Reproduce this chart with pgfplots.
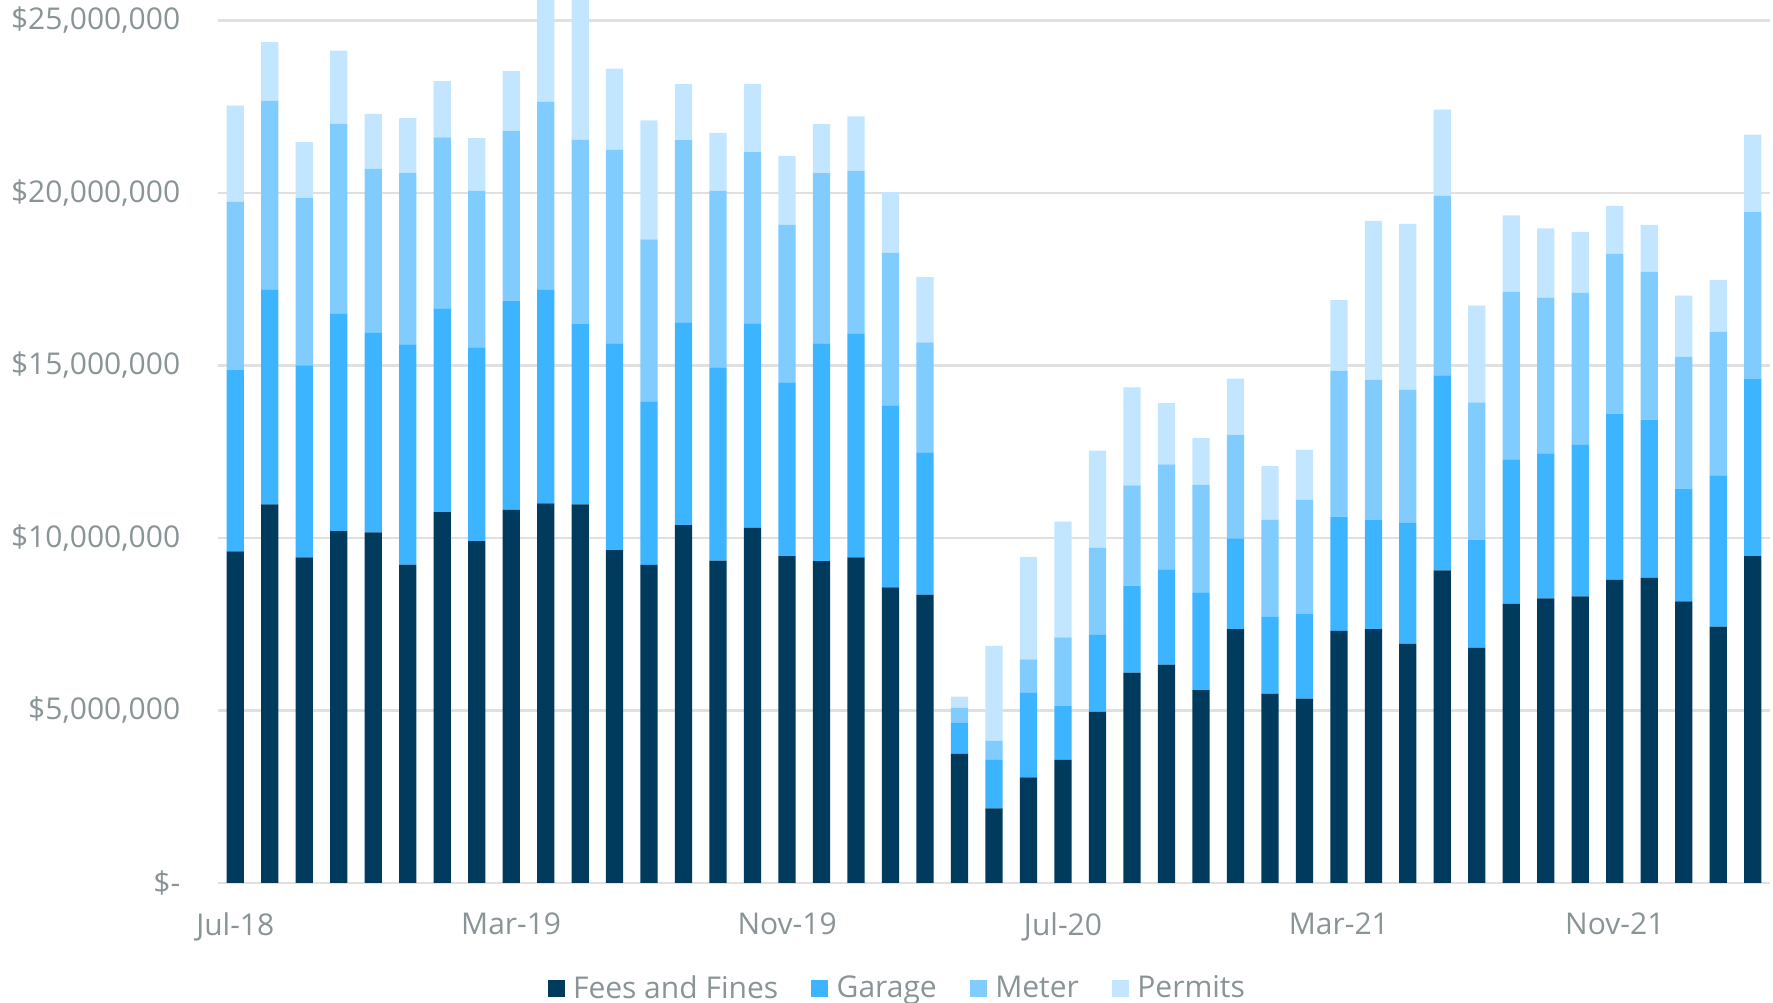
\documentclass[border=0pt]{standalone}
\usepackage{fontspec}
\setmainfont{Open Sans}
\usepackage{pgfplots}
\pgfplotsset{compat=1.18}
\usepackage{pgfplotstable}
\definecolor{fees}{RGB}{0,58,93}
\definecolor{garage}{RGB}{61,180,255}
\definecolor{meter}{RGB}{128,204,255}
\definecolor{permits}{RGB}{194,230,255}
\definecolor{txt}{RGB}{137,148,150}
\definecolor{gridc}{RGB}{224,224,224}

\pgfplotstableread{
i fees garage meter permits
0 9.61 5.25 4.88 2.79
1 10.97 6.22 5.48 1.70
2 9.44 5.56 4.85 1.62
3 10.20 6.31 5.49 2.12
4 10.16 5.78 4.76 1.59
5 9.23 6.38 4.97 1.59
6 10.75 5.90 4.96 1.63
7 9.91 5.61 4.54 1.53
8 10.82 6.06 4.92 1.73
9 11.00 6.19 5.45 3.90
10 10.97 5.23 5.34 4.80
11 9.65 5.99 5.61 2.35
12 9.22 4.74 4.69 3.45
13 10.37 5.88 5.28 1.62
14 9.34 5.60 5.12 1.68
15 10.29 5.93 4.96 1.98
16 9.47 5.04 4.57 1.99
17 9.33 6.31 4.93 1.43
18 9.44 6.49 4.71 1.58
19 8.57 5.27 4.43 1.75
20 8.36 4.12 3.19 1.89
21 3.75 0.89 0.44 0.32
22 2.16 1.41 0.55 2.75
23 3.06 2.45 0.97 2.97
24 3.57 1.57 1.98 3.35
25 4.96 2.23 2.52 2.82
26 6.10 2.52 2.90 2.84
27 6.33 2.76 3.04 1.78
28 5.59 2.83 3.12 1.35
29 7.36 2.63 3.00 1.63
30 5.49 2.22 2.82 1.55
31 5.34 2.45 3.31 1.45
32 7.31 3.31 4.23 2.04
33 7.36 3.17 4.06 4.60
34 6.94 3.50 3.85 4.81
35 9.06 5.65 5.20 2.50
36 6.82 3.13 3.98 2.80
37 8.09 4.19 4.86 2.21
38 8.25 4.20 4.51 2.01
39 8.31 4.39 4.41 1.76
40 8.79 4.81 4.64 1.38
41 8.84 4.59 4.29 1.35
42 8.16 3.27 3.82 1.77
43 7.43 4.38 4.17 1.49
44 9.47 5.13 4.84 2.25
}\data

\begin{document}
\begin{tikzpicture}
\begin{axis}[
  scale only axis,
  width=620.8pt, height=353.2pt,
  xmin=-0.5, xmax=44.5, ymin=0, ymax=25.59,
  enlargelimits=false,
  ybar stacked, bar width=6.9pt,
  xtick={0,8,16,24,32,40},
  xticklabels={Jul-18,Mar-19,Nov-19,Jul-20,Mar-21,Nov-21},
  ytick={0,5,10,15,20,25},
  yticklabels={{\$-\hspace{0.4em}},{\$5,000,000},{\$10,000,000},{\$15,000,000},{\$20,000,000},{\$25,000,000}},
  ymajorgrids,
  grid style={draw=gridc, line width=1pt},
  axis line style={draw=none},
  major tick length=0pt,
  tick label style={font=\fontsize{12}{14}\selectfont, text=txt},
  yticklabel style={xshift=-11.6pt},
  xticklabel style={yshift=-8.4pt},
  legend columns=-1,
  legend style={
    at={(0.437,-0.1195)}, anchor=center, draw=none, fill=none,
    font=\fontsize{12}{14}\selectfont, text=txt,
    nodes={inner xsep=0pt},
    /tikz/every odd column/.append style={column sep=3.4pt},
    /tikz/every even column/.append style={column sep=13.2pt},
  },
  legend image code/.code={\fill[#1] (0pt,-3.4pt) rectangle (6.8pt,3.4pt);},
]
\addplot[fill=fees, draw=none] table[x=i, y=fees] {\data};
\addplot[fill=garage, draw=none] table[x=i, y=garage] {\data};
\addplot[fill=meter, draw=none] table[x=i, y=meter] {\data};
\addplot[fill=permits, draw=none] table[x=i, y=permits] {\data};
\legend{Fees and Fines, Garage, Meter, Permits}
\end{axis}
\pgfresetboundingbox
\path (-87.2pt,-48pt) rectangle (622pt,353.2pt);
\end{tikzpicture}
\end{document}
